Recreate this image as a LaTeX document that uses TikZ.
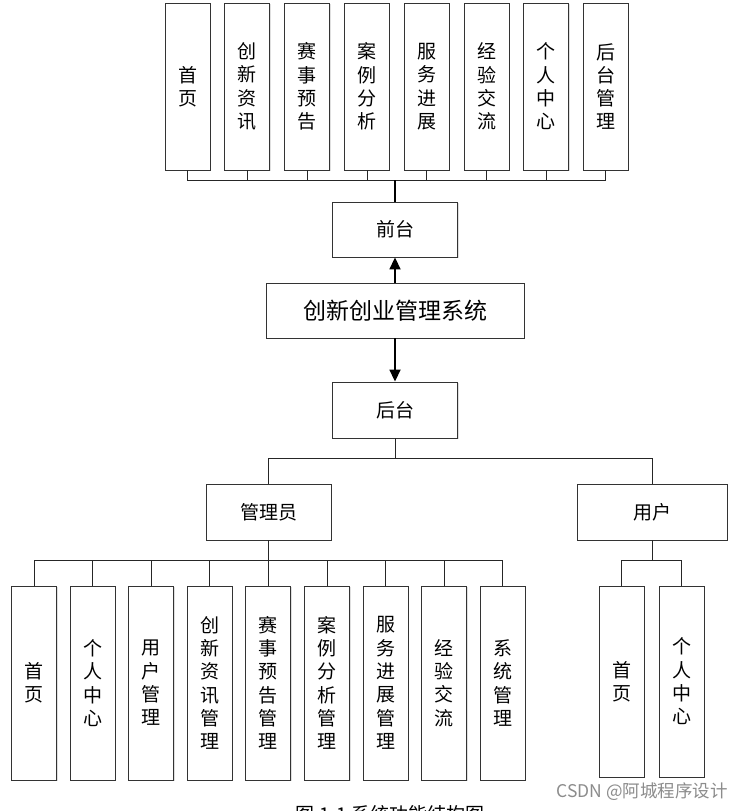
\documentclass[tikz,border=0pt]{standalone}
\usepackage{fontspec}
\newfontfamily\cjk{Noto Sans CJK SC}
\usetikzlibrary{arrows.meta,shadows}
\begin{document}
\begin{tikzpicture}[x=1pt,y=-1pt,
  box/.style={draw=black!80, line width=0.9pt, fill=white, inner sep=0pt, align=center,
    font={\cjk\fontsize{19}{23.3}\selectfont},
    drop shadow={shadow xshift=1pt, shadow yshift=-1.2pt, opacity=0.25}},
  tbox/.style={box, minimum width=45pt, minimum height=167pt},
  abox/.style={box, minimum width=45pt, minimum height=194pt},
  ubox/.style={box, minimum width=45pt, minimum height=191pt},
  conn/.style={draw=black!85, line width=0.8pt},
  thick conn/.style={draw=black, line width=1.8pt},
  arr/.style={draw=black, line width=1.8pt, -{Triangle[width=11pt,length=12pt]}}]
\useasboundingbox (0,0) rectangle (752,811);
\fill[white] (0,0) rectangle (752,811);
% top row
\node[tbox] (t1) at (187.5,86.5) {首\\页};
\node[tbox] (t2) at (247.3,86.5) {创\\新\\资\\讯};
\node[tbox] (t3) at (307.1,86.5) {赛\\事\\预\\告};
\node[tbox] (t4) at (366.9,86.5) {案\\例\\分\\析};
\node[tbox] (t5) at (426.7,86.5) {服\\务\\进\\展};
\node[tbox] (t6) at (486.5,86.5) {经\\验\\交\\流};
\node[tbox] (t7) at (546.0,86.5) {个\\人\\中\\心};
\node[tbox] (t8) at (605.5,86.5) {后\\台\\管\\理};
\coordinate (tbus) at (395,180);
\foreach \i in {1,...,8} \draw[conn] (t\i.south) |- (tbus);
% centre column
\node[box, minimum width=125pt, minimum height=55pt] (front) at (395,229.5) {前台};
\node[box, minimum width=258pt, minimum height=55pt, font={\cjk\fontsize{23}{28}\selectfont}] (main) at (395,310.5) {创新创业管理系统};
\node[box, minimum width=125pt, minimum height=56pt] (back) at (395,410) {后台};
\draw[thick conn] (tbus) -- (front.north);
\draw[arr] (main.north) -- (front.south);
\draw[arr] (main.south) -- (back.north);
% second level
\node[box, minimum width=125pt, minimum height=56pt] (adm) at (268.5,512) {管理员};
\node[box, minimum width=150pt, minimum height=56pt] (usr) at (652,512) {用户};
\coordinate (bbus) at (395,458);
\draw[conn] (back.south) -- (bbus);
\draw[conn] (adm.north) |- (bbus);
\draw[conn] (usr.north) |- (bbus);
% admin children
\node[abox] (a1) at (34.0,683) {首\\页};
\node[abox] (a2) at (92.6,683) {个\\人\\中\\心};
\node[abox] (a3) at (151.2,683) {用\\户\\管\\理};
\node[abox] (a4) at (209.8,683) {创\\新\\资\\讯\\管\\理};
\node[abox] (a5) at (268.4,683) {赛\\事\\预\\告\\管\\理};
\node[abox] (a6) at (327.0,683) {案\\例\\分\\析\\管\\理};
\node[abox] (a7) at (385.6,683) {服\\务\\进\\展\\管\\理};
\node[abox] (a8) at (444.2,683) {经\\验\\交\\流};
\node[abox] (a9) at (502.8,683) {系\\统\\管\\理};
\coordinate (abus) at (268.5,560.7);
\draw[conn] (adm.south) -- (abus);
\foreach \i in {1,...,9} \draw[conn] (a\i.north) |- (abus);
% user children
\node[ubox] (u1) at (621.5,681.5) {首\\页};
\node[ubox] (u2) at (681.5,681.5) {个\\人\\中\\心};
\coordinate (ubus) at (652,560.7);
\draw[conn] (usr.south) -- (ubus);
\foreach \i in {1,2} \draw[conn] (u\i.north) |- (ubus);
% caption (cut off) and watermark
\node[font={\cjk\fontsize{19}{23}\selectfont}, anchor=north] (cap) at (390,802) {图 1-1 系统功能结构图};
\node[font={\cjk\fontsize{17.5}{21}\selectfont}, text=black!45] (wm) at (642,792) {CSDN @阿城程序设计};
\end{tikzpicture}
\end{document}
